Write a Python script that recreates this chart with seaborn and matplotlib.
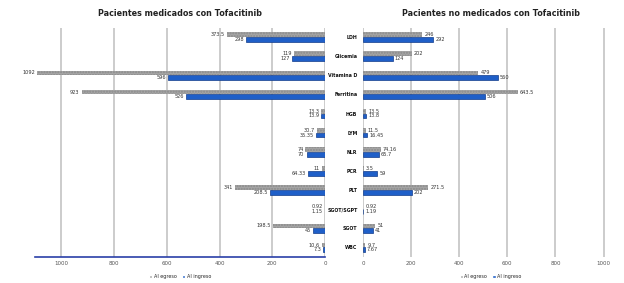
import numpy as np
import pandas as pd
import matplotlib
matplotlib.use("Agg")
import matplotlib.pyplot as plt
import seaborn as sns
from matplotlib.patches import Patch

categories = ["LDH", "Glicemia", "Vitamina D", "Ferritina", "HGB", "LYM", "NLR",
              "PCR", "PLT", "SGOT/SGPT", "SGOT", "WBC"]
med_egreso = [373.5, 119, 1092, 923, 13.3, 30.7, 74, 11, 341, 0.92, 198.5, 10.6]
med_ingreso = [298, 127, 596, 526, 13.9, 35.35, 70, 64.33, 208.5, 1.15, 45, 7.3]
nomed_egreso = [246, 202, 479, 643.5, 13.5, 11.5, 74.16, 3.5, 271.5, 0.92, 51, 9.7]
nomed_ingreso = [292, 124, 560, 506, 13.8, 16.45, 65.7, 59, 202, 1.19, 41, 7.67]
series = ["Al egreso", "Al ingreso"]
ticks = [0, 200, 400, 600, 800, 1000]
titles = ["Pacientes medicados con Tofacitinib", "Pacientes no medicados con Tofacitinib"]

sns.set_theme(style="white")
plt.rcParams["font.family"] = ["DejaVu Sans"]

palette = {"Al egreso": "#a5a5a5", "Al ingreso": "#1f5fc8"}

def make_df(eg, ing):
    return pd.DataFrame({
        "Parametro": categories * 2,
        "Valor": list(eg) + list(ing),
        "Momento": [series[0]] * len(categories) + [series[1]] * len(categories),
    })

fig = plt.figure(figsize=(6.24, 2.83), dpi=100)
fig.patch.set_facecolor("white")
W, H = 624, 283
top_px, bot_px = 27.5, 257
axL = fig.add_axes([35 / W, 1 - bot_px / H, (325 - 35) / W, (bot_px - top_px) / H])
axR = fig.add_axes([363 / W, 1 - bot_px / H, (618 - 363) / W, (bot_px - top_px) / H])

for ax, eg, ing, title, side in [(axL, med_egreso, med_ingreso, titles[0], -1),
                                 (axR, nomed_egreso, nomed_ingreso, titles[1], 1)]:
    df = make_df(eg, ing)
    sns.barplot(data=df, y="Parametro", x="Valor", hue="Momento", order=categories,
                hue_order=series, palette=palette, orient="h", width=0.5,
                ax=ax, legend=False, saturation=1)
    for i, cont in enumerate(ax.containers):
        vals = eg if i == 0 else ing
        for p, v in zip(cont, vals):
            if i == 0:
                p.set_hatch("......")
                p.set_edgecolor("#8a8a8a")
                p.set_linewidth(0)
            else:
                p.set_edgecolor("#123c8a")
                p.set_linewidth(0.5)
            yc = p.get_y() + p.get_height() / 2
            ax.annotate(f"{v:g}", xy=(v, yc), xytext=(side * 1.5, 0),
                        textcoords="offset points",
                        ha="left" if side > 0 else "right", va="center",
                        fontsize=3.6, color="#333333")
    ax.set_ylim(len(categories) - 0.5, -0.5)
    ax.set_xticks(ticks)
    ax.set_xticklabels([str(t) for t in ticks], fontsize=4, color="#555555")
    ax.tick_params(axis="x", length=0, pad=3)
    ax.set_xlabel("")
    ax.set_ylabel("")
    ax.grid(axis="x", color="#cccccc", linewidth=1.4)
    ax.set_axisbelow(True)
    for s in ax.spines.values():
        s.set_visible(False)
    ax.set_title(title, fontsize=5.8, fontweight="bold", pad=8, color="#222222")
    ax.legend(handles=[Patch(facecolor=palette[s], label=s) for s in series],
              loc="center", bbox_to_anchor=(0.5, -0.087), ncol=2, frameon=False,
              fontsize=3.5, handlelength=0.7, handleheight=0.7, handletextpad=0.3,
              columnspacing=1.0, borderpad=0.1)

axL.set_xlim(1100, 0)
axL.set_yticks([])
axL.spines["bottom"].set_visible(True)
axL.spines["bottom"].set_color("#2a3fa8")
axL.spines["bottom"].set_linewidth(1.2)

axR.set_xlim(0, 1060)
axR.set_yticks(range(len(categories)))
axR.set_yticklabels(categories, fontsize=3.4, fontweight="bold", color="#111111")
axR.tick_params(axis="y", length=0, pad=4)

fig.savefig("out.png", dpi=100, facecolor="white")
